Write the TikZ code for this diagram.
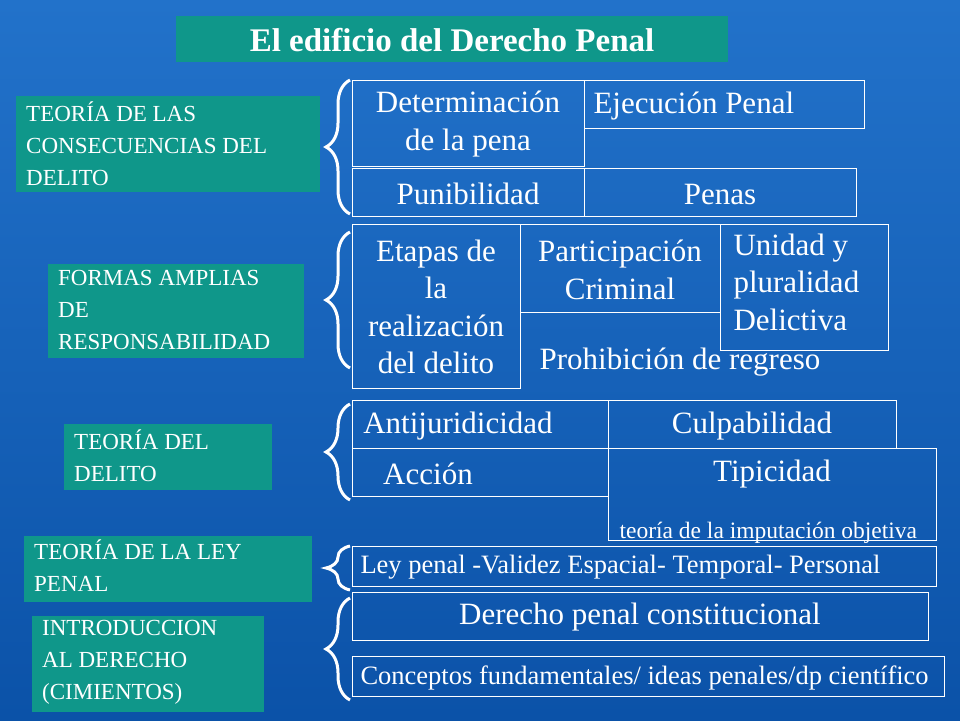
\documentclass[tikz,border=0pt]{standalone}
\usepackage{fontspec}
\setmainfont{Liberation Serif}
\usetikzlibrary{decorations.pathreplacing}
\definecolor{bgA}{HTML}{2272CA}
\definecolor{bgB}{HTML}{0B52A8}
\definecolor{tealc}{HTML}{0F978A}
\begin{document}
\begin{tikzpicture}[x=1pt,y=-1pt,
 lbox/.style={fill=tealc,text=white,font=\fontsize{23}{32}\selectfont,align=left,anchor=north west,inner sep=0pt},
 wbox/.style={draw=white,line width=1pt},
 big/.style={text=white,font=\fontsize{31}{37.5}\selectfont,align=center},
 brc/.style={draw=white,line width=3pt,decorate,decoration={brace,amplitude=24pt,mirror}}]
\fill[top color=bgA,bottom color=bgB] (0,0) rectangle (960,720);
\useasboundingbox (0,0) rectangle (960,720);
% title
\fill[tealc] (176,16) rectangle (728,62);
\node[text=white,font=\bfseries\fontsize{33}{36}\selectfont] (title) at (452,40) {El edificio del Derecho Penal};
% left boxes
\fill[tealc] (16,96) rectangle (320,192);
\node[lbox] (l1) at (26,102) {TEORÍA DE LAS\\CONSECUENCIAS DEL\\DELITO};
\fill[tealc] (48,264) rectangle (304,358);
\node[lbox] (l2) at (58,270) {FORMAS AMPLIAS\\DE\\RESPONSABILIDAD};
\fill[tealc] (64,424) rectangle (272,490);
\node[lbox] (l3) at (74,430) {TEORÍA DEL\\DELITO};
\fill[tealc] (24,536) rectangle (312,602);
\node[lbox] (l4) at (34,540) {TEORÍA DE LA LEY\\PENAL};
\fill[tealc] (32,616) rectangle (264,712);
\node[lbox] (l5) at (42,620) {INTRODUCCION\\AL DERECHO\\(CIMIENTOS)};
% braces
\draw[brc] (350,80) -- (350,214);
\draw[brc] (350,232) -- (350,368);
\draw[brc] (350,404) -- (350,500);
\draw[brc] (350,546) -- (350,590);
\draw[brc] (350,598) -- (350,700);
% group 1
\draw[wbox] (352,80) rectangle (584,166);
\node[big] (det) at (468,124) {Determinación\\de la pena};
\draw[wbox] (584,80) rectangle (864,128);
\node[big,anchor=west] (eje) at (590,106) {Ejecución Penal};
\draw[wbox] (352,168) rectangle (584,216);
\node[big] (pun) at (468,194) {Punibilidad};
\draw[wbox] (584,168) rectangle (856,216);
\node[big] (pen) at (720,194) {Penas};
% group 2
\draw[wbox] (352,224) rectangle (520,388);
\node[big] (eta) at (436,307) {Etapas de\\la\\realización\\del delito};
\draw[wbox] (520,224) rectangle (720,312);
\node[big] (par) at (620,270) {Participación\\Criminal};
\node[big] (pro) at (680,362) {Prohibición de regreso};
\draw[wbox] (720,224) rectangle (888,350);
\node[big,anchor=north west,align=left] (uni) at (730,230) {Unidad y\\pluralidad\\Delictiva};
% group 3
\draw[wbox] (352,400) rectangle (608,448);
\node[big] (ant) at (458,426) {Antijuridicidad};
\draw[wbox] (608,400) rectangle (896,448);
\node[big] (cul) at (752,426) {Culpabilidad};
\draw[wbox] (352,448) rectangle (608,496);
\node[big] (acc) at (428,474) {Acción};
\draw[wbox] (608,448) rectangle (936,540);
\node[big] (tip) at (772,474) {Tipicidad};
\node[text=white,font=\fontsize{23.5}{26}\selectfont,anchor=west] (imp) at (616,533) {teoría de la imputación objetiva};
% group 4
\draw[wbox] (352,546) rectangle (936,586);
\node[text=white,font=\fontsize{26.5}{30}\selectfont,anchor=west] (ley) at (357,567) {Ley penal -Validez Espacial- Temporal- Personal};
% group 5
\draw[wbox] (352,592) rectangle (928,640);
\node[big] (dpc) at (640,617) {Derecho penal constitucional};
\draw[wbox] (352,656) rectangle (944,696);
\node[text=white,font=\fontsize{26.5}{30}\selectfont,anchor=west] (con) at (357,678) {Conceptos fundamentales/ ideas penales/dp científico};
\end{tikzpicture}
\end{document}
